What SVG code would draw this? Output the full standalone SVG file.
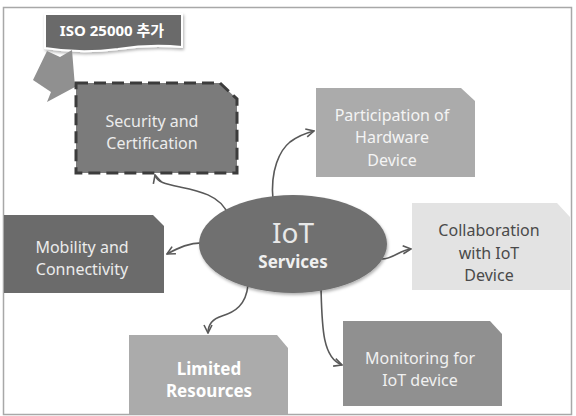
<svg xmlns="http://www.w3.org/2000/svg" width="576" height="416" viewBox="0 0 576 416">
  <defs>
    <style>
      .t { font-family: "Noto Sans", "Noto Sans CJK KR", sans-serif; font-size: 16px; text-anchor: middle; }
      .b { font-weight: bold; }
      .conn { fill: none; stroke: #595959; stroke-width: 1.6; marker-end: url(#arr); }
    </style>
    <marker id="arr" viewBox="0 0 10 10" refX="9" refY="5" markerWidth="10" markerHeight="10" markerUnits="userSpaceOnUse" orient="auto">
      <path d="M1,1 L9,5 L1,9" fill="none" stroke="#595959" stroke-width="1.6"/>
    </marker>
    <filter id="sh" x="-20%" y="-20%" width="140%" height="150%">
      <feDropShadow dx="1" dy="2" stdDeviation="1.5" flood-color="#000" flood-opacity="0.3"/>
    </filter>
  </defs>
  <rect x="0" y="0" width="576" height="416" fill="#ffffff"/>
  <rect x="3.5" y="7.5" width="568" height="407" fill="none" stroke="#a8a8a8" stroke-width="1.5"/>

  <g id="connectors">
    <path class="conn" d="M228,215 C222,195 195,190 180,187 C165,184 157,182 155,175"/>
    <path class="conn" d="M273,200 C270,170 280,150 290,142 C298,136 306,133 314,131"/>
    <path class="conn" d="M205,243 C190,242 178,248 167,254"/>
    <path class="conn" d="M382,259 C393,259 400,250 411,249"/>
    <path class="conn" d="M248,285 C246,305 235,312 222,316 C212,319 208,325 208,333"/>
    <path class="conn" d="M321,288 C322,325 322,358 342,365"/>
  </g>

  <g id="iso-callout">
    <path d="M45,14 H182 V47 Q150,44 118,49 Q80,54 45,48 Z" fill="#6b6b6b" stroke="#ffffff" stroke-width="2" filter="url(#sh)"/>
    <text class="t b" x="112" y="36" style="font-size:15px" fill="#ffffff">ISO 25000 추가</text>
    <polygon points="47,51 60,57 72,50 75,87 47,102 51,92 33,80" fill="#909090"/>
  </g>

  <g id="security">
    <path d="M76,83 H220 L237,99 V173 H76 Z" fill="#7b7b7b" stroke="#3c3c3c" stroke-width="3" stroke-dasharray="12,6"/>
    <text class="t" x="152" y="127" fill="#ececec">Security and</text>
    <text class="t" x="152" y="149" fill="#ececec">Certification</text>
  </g>

  <g id="participation">
    <path d="M316,88 H461 L475,101 V177 H316 Z" fill="#ababab"/>
    <text class="t" x="392" y="121" fill="#f4f4f4">Participation of</text>
    <text class="t" x="392" y="143" fill="#f4f4f4">Hardware</text>
    <text class="t" x="392" y="166" fill="#f4f4f4">Device</text>
  </g>

  <g id="collaboration">
    <path d="M412,203 H557 L570,217 V290 H412 Z" fill="#e3e3e3"/>
    <text class="t" x="489" y="236" fill="#4a4a4a">Collaboration</text>
    <text class="t" x="489" y="259" fill="#4a4a4a">with IoT</text>
    <text class="t" x="489" y="281" fill="#4a4a4a">Device</text>
  </g>

  <g id="mobility">
    <path d="M4,215 H153 L164,226 V293 H4 Z" fill="#6b6b6b"/>
    <text class="t" x="82" y="253" fill="#ececec">Mobility and</text>
    <text class="t" x="82" y="275" fill="#ececec">Connectivity</text>
  </g>

  <g id="limited">
    <path d="M129,335 H277 L288,348 V414 H129 Z" fill="#ababab"/>
    <text class="t b" x="209" y="375" style="font-size:17px" fill="#ffffff">Limited</text>
    <text class="t b" x="209" y="397" style="font-size:17px" fill="#ffffff">Resources</text>
  </g>

  <g id="monitoring">
    <path d="M343,321 H490 L502,334 V406 H343 Z" fill="#909090"/>
    <text class="t" x="420" y="364" fill="#f0f0f0">Monitoring for</text>
    <text class="t" x="420" y="386" fill="#f0f0f0">IoT device</text>
  </g>

  <g id="iot-services">
    <ellipse cx="293" cy="244" rx="94" ry="49" fill="#6f6f6f" filter="url(#sh)"/>
    <text class="t" x="293" y="243" style="font-size:28px" fill="#e8e8e8">IoT</text>
    <text class="t b" x="293" y="268" style="font-size:17px" fill="#f0f0f0">Services</text>
  </g>
</svg>
